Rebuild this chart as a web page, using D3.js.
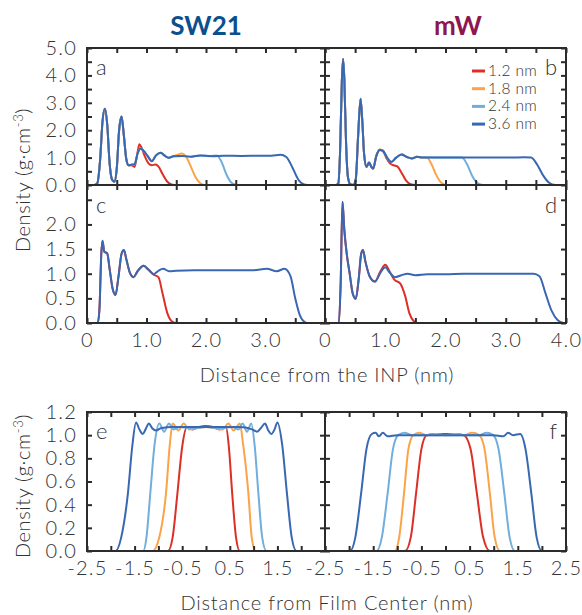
<!DOCTYPE html>
<html>
<head>
<meta charset="utf-8">
<script src="https://cdn.jsdelivr.net/npm/d3@7"></script>
<style>
  body { margin: 0; background: #fff; }
  svg text { font-family: Lato, 'Open Sans', sans-serif; font-weight: 300; fill: #333; }
</style>
</head>
<body>
<svg id="canvas" width="582" height="615"></svg>
<script>
// series names and colours
let sizes = ['1.2 nm', '1.8 nm', '2.4 nm', '3.6 nm'];
let colors = ['#dc2f26', '#fba348', '#72aedb', '#3868b2'];

// (a) SW21, distance from INP
let aRed = [[0,0],[0.12,0],[0.17,0.05],[0.22,0.9],[0.26,2.3],[0.30,2.78],[0.34,2.2],[0.38,0.8],[0.42,0.2],[0.46,0.12],[0.50,0.6],[0.54,2.0],[0.58,2.5],[0.62,1.8],[0.66,0.95],[0.70,0.72],[0.75,0.72],[0.80,0.66],[0.85,1.2],[0.88,1.49],[0.92,1.35],[0.97,1.05],[1.03,0.8],[1.09,0.72],[1.15,0.75],[1.20,0.68],[1.27,0.4],[1.35,0.12],[1.42,0.02],[1.5,0],[1.8,0]];
let aOrange = [[0,0],[0.12,0],[0.17,0.05],[0.22,0.9],[0.26,2.3],[0.30,2.78],[0.34,2.2],[0.38,0.8],[0.42,0.2],[0.46,0.12],[0.50,0.6],[0.54,2.0],[0.58,2.5],[0.62,1.8],[0.66,0.95],[0.70,0.72],[0.75,0.74],[0.80,0.75],[0.85,1.15],[0.90,1.33],[0.95,1.25],[1.02,1.05],[1.09,0.87],[1.16,1.08],[1.24,1.18],[1.30,1.08],[1.37,0.99],[1.45,1.05],[1.52,1.1],[1.59,1.15],[1.66,1.05],[1.74,0.7],[1.82,0.3],[1.9,0.07],[1.97,0],[2.32,0]];
let aLight = [[0,0],[0.12,0],[0.17,0.05],[0.22,0.9],[0.26,2.3],[0.30,2.78],[0.34,2.2],[0.38,0.8],[0.42,0.2],[0.46,0.12],[0.50,0.6],[0.54,2.0],[0.58,2.5],[0.62,1.8],[0.66,0.95],[0.70,0.72],[0.75,0.74],[0.80,0.75],[0.85,1.15],[0.90,1.33],[0.95,1.25],[1.02,1.05],[1.09,0.87],[1.16,1.08],[1.24,1.18],[1.30,1.08],[1.37,0.99],[1.45,1.05],[1.6,1.06],[1.75,1.03],[1.9,1.08],[2.05,1.05],[2.18,1.08],[2.26,0.85],[2.34,0.4],[2.42,0.1],[2.5,0.01],[2.55,0],[3.3,0]];
let aDark = [[0,0],[0.12,0],[0.17,0.05],[0.22,0.9],[0.26,2.3],[0.30,2.78],[0.34,2.2],[0.38,0.8],[0.42,0.2],[0.46,0.12],[0.50,0.6],[0.54,2.0],[0.58,2.5],[0.62,1.8],[0.66,0.95],[0.70,0.72],[0.75,0.74],[0.80,0.75],[0.85,1.15],[0.90,1.33],[0.95,1.25],[1.02,1.05],[1.09,0.87],[1.16,1.08],[1.24,1.18],[1.30,1.08],[1.37,0.99],[1.45,1.05],[1.6,1.06],[1.75,1.03],[1.9,1.08],[2.1,1.05],[2.3,1.07],[2.6,1.06],[2.9,1.07],[3.1,1.07],[3.25,1.1],[3.35,1.02],[3.45,0.65],[3.55,0.2],[3.65,0.02],[3.75,0],[4.0,0]];

// (b) mW, distance from INP
let bRed = [[0,0],[0.18,0],[0.22,0.05],[0.25,1.2],[0.28,3.8],[0.30,4.6],[0.32,3.9],[0.35,1.5],[0.38,0.3],[0.42,0.02],[0.47,0],[0.51,0.2],[0.55,1.8],[0.59,3.15],[0.62,2.3],[0.65,1.1],[0.69,0.66],[0.73,0.82],[0.77,0.66],[0.80,0.6],[0.85,1.05],[0.91,1.3],[0.96,1.25],[1.02,0.98],[1.08,0.78],[1.14,0.72],[1.20,0.68],[1.27,0.45],[1.34,0.18],[1.42,0.03],[1.5,0],[1.8,0]];
let bOrange = [[0,0],[0.18,0],[0.22,0.05],[0.25,1.2],[0.28,3.8],[0.30,4.6],[0.32,3.9],[0.35,1.5],[0.38,0.3],[0.42,0.02],[0.47,0],[0.51,0.2],[0.55,1.8],[0.59,3.15],[0.62,2.3],[0.65,1.1],[0.69,0.66],[0.73,0.82],[0.77,0.66],[0.80,0.6],[0.85,1.05],[0.91,1.28],[0.96,1.25],[1.03,1.0],[1.10,0.84],[1.18,1.0],[1.27,1.11],[1.36,1.02],[1.44,0.97],[1.53,1.03],[1.62,1.0],[1.69,1.0],[1.77,0.75],[1.85,0.35],[1.93,0.08],[2.02,0],[2.39,0]];
let bLight = [[0,0],[0.18,0],[0.22,0.05],[0.25,1.2],[0.28,3.8],[0.30,4.6],[0.32,3.9],[0.35,1.5],[0.38,0.3],[0.42,0.02],[0.47,0],[0.51,0.2],[0.55,1.8],[0.59,3.15],[0.62,2.3],[0.65,1.1],[0.69,0.66],[0.73,0.82],[0.77,0.66],[0.80,0.6],[0.85,1.05],[0.91,1.28],[0.96,1.25],[1.03,1.0],[1.10,0.84],[1.18,1.0],[1.27,1.11],[1.36,1.02],[1.44,0.97],[1.53,1.03],[1.62,1.0],[1.8,1.0],[2.0,1.0],[2.2,1.0],[2.27,1.0],[2.36,0.75],[2.45,0.3],[2.53,0.07],[2.62,0],[2.99,0]];
let bDark = [[0,0],[0.18,0],[0.22,0.05],[0.25,1.2],[0.28,3.8],[0.30,4.6],[0.32,3.9],[0.35,1.5],[0.38,0.3],[0.42,0.02],[0.47,0],[0.51,0.2],[0.55,1.8],[0.59,3.15],[0.62,2.3],[0.65,1.1],[0.69,0.66],[0.73,0.82],[0.77,0.66],[0.80,0.6],[0.85,1.05],[0.91,1.28],[0.96,1.25],[1.03,1.0],[1.10,0.84],[1.18,1.0],[1.27,1.11],[1.36,1.02],[1.44,0.97],[1.53,1.03],[1.62,1.0],[1.8,1.0],[2.0,1.0],[2.2,1.0],[2.5,1.0],[2.8,1.0],[3.1,1.0],[3.3,1.01],[3.42,1.0],[3.52,0.75],[3.62,0.35],[3.72,0.08],[3.82,0],[4.0,0]];

// (c) SW21, second set
let cRed = [[0,0],[0.18,0],[0.21,0.3],[0.24,1.4],[0.26,1.67],[0.29,1.45],[0.34,1.41],[0.38,1.1],[0.43,0.7],[0.48,0.57],[0.53,0.95],[0.58,1.4],[0.62,1.48],[0.66,1.3],[0.72,1.02],[0.78,0.93],[0.85,1.05],[0.95,1.16],[1.03,1.08],[1.12,0.98],[1.2,0.93],[1.27,0.6],[1.35,0.2],[1.43,0.03],[1.5,0],[2.49,0]];
let cDark = [[0,0],[0.18,0],[0.21,0.3],[0.24,1.4],[0.26,1.67],[0.29,1.45],[0.34,1.41],[0.38,1.1],[0.43,0.7],[0.48,0.57],[0.53,0.95],[0.58,1.4],[0.62,1.48],[0.66,1.3],[0.72,1.02],[0.78,0.93],[0.85,1.05],[0.95,1.16],[1.04,1.08],[1.12,0.99],[1.2,1.06],[1.28,1.1],[1.38,1.05],[1.5,1.06],[1.8,1.07],[2.1,1.07],[2.5,1.07],[2.8,1.07],[3.02,1.1],[3.19,1.05],[3.32,1.1],[3.42,0.95],[3.5,0.5],[3.58,0.15],[3.66,0.02],[3.72,0],[4.0,0]];

// (d) mW, second set
let dRed = [[0,0],[0.23,0],[0.26,0.8],[0.29,2.46],[0.32,1.9],[0.36,1.41],[0.41,1.0],[0.46,0.6],[0.51,0.49],[0.56,0.9],[0.6,1.4],[0.63,1.48],[0.67,1.25],[0.74,0.95],[0.83,0.84],[0.92,1.05],[1.0,1.18],[1.07,1.05],[1.15,0.88],[1.25,0.8],[1.33,0.55],[1.4,0.2],[1.47,0.04],[1.53,0],[3.23,0]];
let dDark = [[0,0],[0.23,0],[0.26,0.8],[0.29,2.46],[0.32,1.9],[0.36,1.41],[0.41,1.0],[0.46,0.6],[0.51,0.49],[0.56,0.9],[0.6,1.4],[0.63,1.48],[0.67,1.25],[0.74,0.95],[0.83,0.84],[0.92,1.02],[1.0,1.13],[1.07,1.03],[1.16,0.93],[1.27,0.97],[1.37,1.0],[1.5,0.97],[1.7,0.99],[2.0,0.99],[2.3,1.0],[2.6,1.0],[2.9,1.0],[3.2,1.0],[3.46,1.0],[3.56,0.95],[3.66,0.6],[3.76,0.25],[3.86,0.06],[3.96,0],[4.0,0]];

// (e) SW21 films, distance from film centre
let eRed = [[-2.5,0],[-0.8,0],[-0.7,0.12],[-0.6,0.5],[-0.5,0.9],[-0.4,1.07],[-0.28,1.05],[-0.15,1.07],[0,1.08],[0.15,1.07],[0.28,1.05],[0.42,1.07],[0.48,0.9],[0.55,0.5],[0.63,0.12],[0.71,0],[2.5,0]];
let eOrange = [[-2.5,0],[-1.12,0],[-0.98,0.12],[-0.84,0.5],[-0.76,0.92],[-0.70,1.1],[-0.58,1.04],[-0.47,1.1],[-0.35,1.05],[-0.2,1.06],[0,1.07],[0.2,1.06],[0.35,1.05],[0.47,1.1],[0.58,1.04],[0.71,1.1],[0.78,0.92],[0.89,0.5],[0.96,0.12],[1.04,0],[2.5,0]];
let eLight = [[-2.5,0],[-1.32,0],[-1.25,0.12],[-1.17,0.5],[-1.08,0.92],[-0.98,1.1],[-0.88,1.03],[-0.78,1.1],[-0.68,1.05],[-0.55,1.07],[-0.3,1.06],[0,1.07],[0.3,1.06],[0.55,1.07],[0.68,1.05],[0.77,1.1],[0.86,1.03],[0.95,1.1],[1.02,0.92],[1.1,0.5],[1.18,0.12],[1.27,0],[2.5,0]];
let eDark = [[-2.5,0],[-1.9,0],[-1.78,0.12],[-1.64,0.5],[-1.55,0.9],[-1.47,1.11],[-1.40,1.05],[-1.33,1.01],[-1.27,1.05],[-1.20,1.1],[-1.13,1.06],[-1.05,1.04],[-0.95,1.06],[-0.7,1.07],[0,1.07],[0.7,1.07],[0.97,1.05],[1.07,1.03],[1.15,1.06],[1.24,1.1],[1.31,1.04],[1.37,1.01],[1.44,1.05],[1.50,1.11],[1.6,0.92],[1.7,0.5],[1.8,0.12],[1.9,0],[2.5,0]];

// (f) mW films
let fRed = [[-2.5,0],[-0.84,0],[-0.72,0.12],[-0.61,0.5],[-0.5,0.88],[-0.39,1.0],[-0.2,1.01],[0,1.01],[0.2,1.01],[0.38,1.0],[0.52,0.88],[0.65,0.5],[0.78,0.12],[0.92,0],[2.5,0]];
let fOrange = [[-2.5,0],[-1.05,0],[-0.96,0.12],[-0.86,0.5],[-0.77,0.88],[-0.67,1.0],[-0.55,1.02],[-0.4,1.0],[-0.2,1.01],[0,1.0],[0.2,1.01],[0.4,1.0],[0.55,1.02],[0.70,1.0],[0.81,0.88],[0.92,0.5],[1.02,0.12],[1.13,0],[2.5,0]];
let fLight = [[-2.5,0],[-1.43,0],[-1.32,0.12],[-1.2,0.5],[-1.09,0.88],[-0.98,1.0],[-0.85,1.02],[-0.7,1.0],[-0.4,1.0],[0,1.0],[0.4,1.0],[0.7,1.0],[0.85,1.02],[0.99,1.0],[1.1,0.88],[1.22,0.5],[1.33,0.12],[1.44,0],[2.5,0]];
let fDark = [[-2.5,0],[-1.98,0],[-1.87,0.12],[-1.75,0.5],[-1.64,0.88],[-1.53,1.01],[-1.45,1.02],[-1.38,0.99],[-1.3,1.02],[-1.2,0.99],[-1.0,1.0],[0,1.0],[1.0,1.0],[1.2,0.99],[1.3,1.02],[1.4,1.0],[1.55,1.01],[1.66,0.88],[1.78,0.5],[1.89,0.12],[2.0,0],[2.5,0]];

// tick labels
let yLabelsA = [0, 1, 2, 3, 4, 5];
let yLabelsC = [0, 0.5, 1, 1.5, 2];
let yLabelsE = [0, 0.2, 0.4, 0.6, 0.8, 1.0, 1.2];
let xLabelsC = [0, 1, 2, 3];
let xLabelsD = [0, 1, 2, 3, 4];
let xLabelsE = [-2.5, -1.5, -0.5, 0.5, 1.5];
let xLabelsF = [-2.5, -1.5, -0.5, 0.5, 1.5, 2.5];

let canvas = d3.select('#canvas');

let L = 87, M = 325, R = 566;
let panels = [
  { letter: 'a', lx: 'start', x0: L, x1: M, y0: 185, y1: 48, xd: [0, 4], yd: [0, 5], yStep: 0.5, xStep: 0.5,
    series: [aRed, aOrange, aLight, aDark], yLabels: yLabelsA, xLabels: [], ly: 75 },
  { letter: 'b', lx: 'end', x0: M, x1: R, y0: 185, y1: 48, xd: [0, 4], yd: [0, 5], yStep: 0.5, xStep: 0.5,
    series: [bRed, bOrange, bLight, bDark], yLabels: [], xLabels: [], ly: 75 },
  { letter: 'c', lx: 'start', x0: L, x1: M, y0: 323, y1: 185, xd: [0, 4], yd: [0, 2.8], yStep: 0.5, xStep: 0.5,
    series: [cRed, null, null, cDark], yLabels: yLabelsC, xLabels: xLabelsC, ly: 213 },
  { letter: 'd', lx: 'end', x0: M, x1: R, y0: 323, y1: 185, xd: [0, 4], yd: [0, 2.8], yStep: 0.5, xStep: 0.5,
    series: [dRed, null, null, dDark], yLabels: [], xLabels: xLabelsD, ly: 213 },
  { letter: 'e', lx: 'start', x0: L, x1: M, y0: 551, y1: 412, xd: [-2.5, 2.5], yd: [0, 1.2], yStep: 0.2, xStep: 0.5,
    series: [eRed, eOrange, eLight, eDark], yLabels: yLabelsE, xLabels: xLabelsE, ly: 439 },
  { letter: 'f', lx: 'end', x0: M, x1: R, y0: 551, y1: 412, xd: [-2.5, 2.5], yd: [0, 1.2], yStep: 0.2, xStep: 0.5,
    series: [fRed, fOrange, fLight, fDark], yLabels: [], xLabels: xLabelsF, ly: 439 }
];

let has = (list, v) => list.some(d => Math.abs(d - v) < 1e-6);
let fmtX = (v) => Math.abs(v) < 1e-9 ? '0' : v.toFixed(1);

let drawPanel = (p) => {
  let x = d3.scaleLinear().domain(p.xd).range([p.x0, p.x1]);
  let y = d3.scaleLinear().domain(p.yd).range([p.y0, p.y1]);
  let g = canvas.append('g');

  let line = d3.line()
    .x(d => x(d[0]))
    .y(d => y(d[1]))
    .curve(d3.curveMonotoneX);

  p.series.forEach((s, i) => {
    if (!s) return;
    g.append('path')
      .datum(s)
      .attr('d', line)
      .attr('fill', 'none')
      .attr('stroke', colors[i])
      .attr('stroke-width', 2);
  });

  let xTicks = d3.range(p.xd[0], p.xd[1] + 1e-6, p.xStep);
  let yTicks = d3.range(p.yd[0], p.yd[1] + 1e-6, p.yStep);

  let axes = [
    [d3.axisBottom(x).tickValues(xTicks).tickFormat(v => has(p.xLabels, v) ? fmtX(v) : ''), `translate(0,${p.y0})`],
    [d3.axisTop(x).tickValues(xTicks).tickFormat(''), `translate(0,${p.y1})`],
    [d3.axisLeft(y).tickValues(yTicks).tickFormat(v => has(p.yLabels, v) ? v.toFixed(1) : ''), `translate(${p.x0},0)`],
    [d3.axisRight(y).tickValues(yTicks).tickFormat(''), `translate(${p.x1},0)`]
  ];
  axes.forEach(([ax, tr]) => {
    let a = g.append('g')
      .attr('transform', tr)
      .call(ax.tickSize(-5).tickPadding(10));
    a.select('.domain').remove();
    a.selectAll('line').attr('stroke', '#2b2b2b').attr('stroke-width', 2);
    a.selectAll('text')
      .attr('font-size', 20)
      .attr('font-family', 'Lato, sans-serif')
      .attr('letter-spacing', 1.2)
      .attr('fill', '#333');
  });

  g.append('rect')
    .attr('x', p.x0)
    .attr('y', p.y1)
    .attr('width', p.x1 - p.x0)
    .attr('height', p.y0 - p.y1)
    .attr('fill', 'none')
    .attr('stroke', '#2b2b2b')
    .attr('stroke-width', 2);

  g.append('text')
    .attr('x', p.lx === 'start' ? p.x0 + 9 : p.x1 - 9)
    .attr('y', p.ly)
    .attr('text-anchor', p.lx)
    .attr('font-size', 22)
    .text(p.letter);
};

panels.forEach(drawPanel);

// titles
canvas.append('text')
  .attr('x', 206).attr('y', 35)
  .attr('text-anchor', 'middle')
  .attr('font-size', 26)
  .style('font-weight', 700)
  .style('fill', '#0b4f8c')
  .text('SW21');
canvas.append('text')
  .attr('x', 458).attr('y', 35)
  .attr('text-anchor', 'middle')
  .attr('font-size', 26)
  .style('font-weight', 700)
  .style('fill', '#8c1650')
  .text('mW');

// axis titles
let yTitle = (cy) => {
  let t = canvas.append('text')
    .attr('transform', `translate(30,${cy}) rotate(-90)`)
    .attr('text-anchor', 'middle')
    .attr('font-size', 20)
    .attr('letter-spacing', 0.6);
  t.append('tspan').text('Density (g·cm');
  t.append('tspan').attr('dy', -7).attr('font-size', 13).text('-3');
  t.append('tspan').attr('dy', 7).text(')');
};
yTitle(180);
yTitle(486);

canvas.append('text')
  .attr('x', 327).attr('y', 382)
  .attr('text-anchor', 'middle')
  .attr('font-size', 20)
  .attr('letter-spacing', 0.8)
  .text('Distance from the INP (nm)');
canvas.append('text')
  .attr('x', 327).attr('y', 610)
  .attr('text-anchor', 'middle')
  .attr('font-size', 20)
  .attr('letter-spacing', 0.8)
  .text('Distance from Film Center (nm)');

// legend
let legend = canvas.append('g');
sizes.forEach((s, i) => {
  let ly = 71 + i * 17.7;
  legend.append('line')
    .attr('x1', 472).attr('x2', 485)
    .attr('y1', ly).attr('y2', ly)
    .attr('stroke', colors[i])
    .attr('stroke-width', 3);
  legend.append('text')
    .attr('x', 488).attr('y', ly + 5)
    .attr('font-size', 15.5)
    .attr('letter-spacing', 0.4)
    .text(s);
});
</script>
</body>
</html>
